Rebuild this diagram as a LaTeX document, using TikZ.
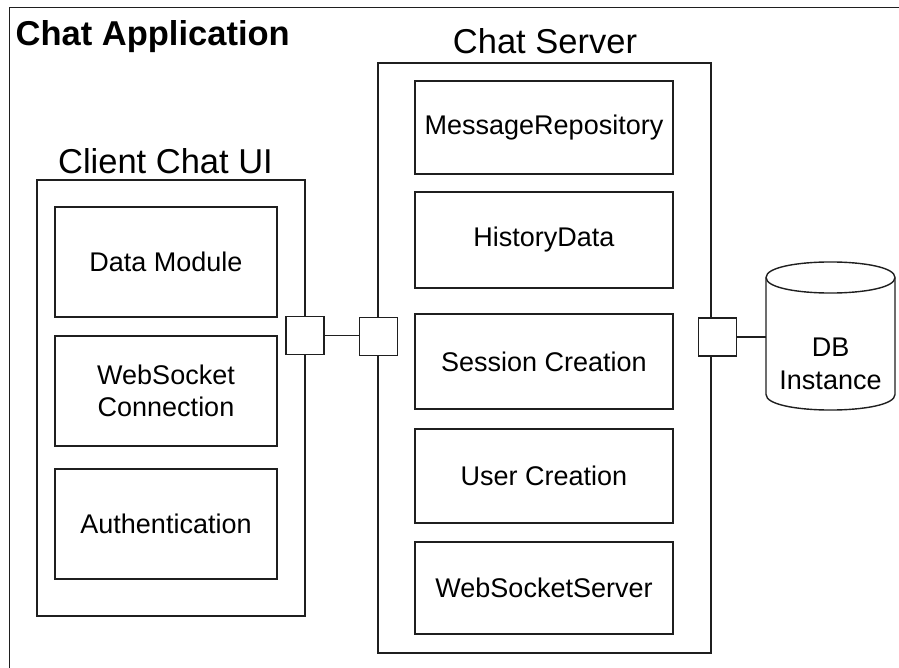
\documentclass[tikz,border=0pt]{standalone}
\usepackage{fontspec}
\setmainfont{Liberation Sans}
\begin{document}
\begin{tikzpicture}[x=1pt,y=-1pt,
  line width=1.4pt,
  box/.style={draw=black!88, line width=1.4pt, inner sep=0pt, outer sep=0pt,
    align=center, font=\fontsize{27}{32}\selectfont},
  port/.style={draw=black!88, fill=white, line width=1.4pt, inner sep=0pt, outer sep=0pt,
    minimum width=38pt, minimum height=38pt},
  heading/.style={inner sep=0pt, outer sep=0pt, anchor=base, font=\fontsize{34.5}{40}\selectfont},
  wire/.style={draw=black!88, line width=1.4pt}]
\useasboundingbox (0,0) rectangle (899,668);
\fill[white] (0,0) rectangle (899,668);

% application frame (continues past the right and bottom edges)
\coordinate (fbl) at (9.5,680);
\coordinate (ftl) at (9.5,7.5);
\coordinate (ftr) at (910,7.5);
\draw[wire] (fbl) -- (ftl) -- (ftr);
\node[inner sep=0pt, anchor=base west, font=\bfseries\fontsize{34.5}{40}\selectfont] (apptitle) at (15,46) {Chat Application};

% client side
\node[box, minimum width=268pt, minimum height=436pt] (client) at (171,398) {};
\node[heading] (clienttitle) at (165.5,174) {Client Chat UI};
\node[box, minimum width=222pt, minimum height=110pt] (dm) at (166,262) {Data Module};
\node[box, minimum width=222pt, minimum height=110pt] (wsc) at (166,391) {WebSocket\\Connection};
\node[box, minimum width=222pt, minimum height=110pt] (auth) at (166,524) {Authentication};

% server side
\node[box, minimum width=333pt, minimum height=590pt] (server) at (544.5,358) {};
\node[heading] (servertitle) at (545,54) {Chat Server};
\node[box, minimum width=258pt, minimum height=93pt] (repo) at (544,127.5) {MessageRepository};
\node[box, minimum width=258pt, minimum height=96pt] (hist) at (544,240) {HistoryData};
\node[box, minimum width=258pt, minimum height=95pt] (sess) at (544,361.5) {Session Creation};
\node[box, minimum width=258pt, minimum height=94pt] (user) at (544,476) {User Creation};
\node[box, minimum width=258pt, minimum height=92pt] (wss) at (544,588) {WebSocketServer};

% ports
\node[port] (pclient) at (305,335.5) {};
\node[port] (pserverl) at (378.5,336.5) {};
\node[port] (pserverr) at (717.5,337) {};

% database cylinder: body with rounded bottom, then the front rim of the lid
\draw[wire, fill=white] (766,277.5)
  .. controls (766,256.8) and (895,256.8) .. (895,277.5)
  -- (895,394.5)
  .. controls (895,415.2) and (766,415.2) .. (766,394.5)
  -- cycle;
\draw[wire] (766,277.5) .. controls (766,298.2) and (895,298.2) .. (895,277.5);
\node[inner sep=0pt, align=center, font=\fontsize{27}{33}\selectfont] (db) at (830.5,364) {DB\\Instance};
\coordinate (dbleft) at (766,337);

% connectors
\draw[wire] (pclient.east) -- (pserverl.west |- pclient.east);
\draw[wire] (pserverr.east) -- (dbleft);
\end{tikzpicture}
\end{document}
